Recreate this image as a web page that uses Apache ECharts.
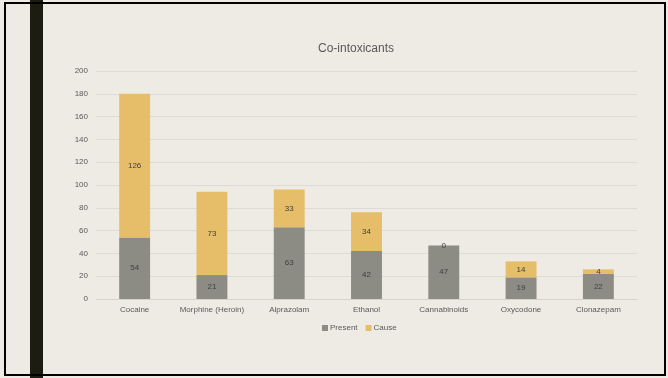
<!DOCTYPE html>
<html><head><meta charset="utf-8">
<script src="https://cdn.jsdelivr.net/npm/echarts@6/dist/echarts.min.js"></script>
<style>html,body{margin:0;padding:0;background:#EEEBE4}#c{width:668px;height:378px}</style>
</head><body><div id="c"></div>
<script>
const categories = ['Cocaine','Morphine (Heroin)','Alprazolam','Ethanol','Cannabinoids','Oxycodone','Clonazepam'];
const present = [54,21,63,42,47,19,22];
const cause = [126,73,33,34,0,14,4];
const yTicks = {min:0,max:200,interval:20};

const chart = echarts.init(document.getElementById('c'));
const font = 'Liberation Sans, Arial, sans-serif';
chart.setOption({
  backgroundColor:'#EEEBE4',
  animation:false,
  title:{text:'Co-intoxicants',left:313,top:38,textStyle:{fontSize:12,fontWeight:'normal',color:'#595959',fontFamily:font}},
  legend:{data:['Present','Cause'],left:322,top:324,padding:0,itemWidth:6,itemHeight:6,itemGap:8,icon:'rect',textStyle:{fontSize:8,color:'#595959',fontFamily:font,padding:[0,0,0,-3]}},
  grid:{left:96,right:31,top:71,bottom:79},
  xAxis:{type:'category',data:categories,axisTick:{show:false},axisLine:{lineStyle:{color:'#D6D3CC'}},axisLabel:{fontSize:8,color:'#595959',fontFamily:font,margin:7,interval:0}},
  yAxis:{type:'value',min:yTicks.min,max:yTicks.max,interval:yTicks.interval,axisLine:{show:false},axisTick:{show:false},splitLine:{lineStyle:{color:'#DEDBD4'}},axisLabel:{fontSize:8,color:'#595959',fontFamily:font,margin:8}},
  series:[
    {name:'Present',type:'bar',stack:'a',data:present,barWidth:'40%',itemStyle:{color:'#8C8C84'},label:{show:true,position:'inside',fontSize:8,color:'#404040',fontFamily:font}},
    {name:'Cause',type:'bar',stack:'a',data:cause,barWidth:'40%',itemStyle:{color:'#E6BE6A'},label:{show:true,position:'inside',fontSize:8,color:'#404040',fontFamily:font}}
  ],
  graphic:[
    {type:'rect',z:100,shape:{x:30,y:0,width:13,height:378},style:{fill:'#1C1C10'}},
    {type:'rect',z:100,shape:{x:5,y:3,width:660,height:372},style:{fill:'none',stroke:'#000',lineWidth:2}}
  ]
});
</script></body></html>
